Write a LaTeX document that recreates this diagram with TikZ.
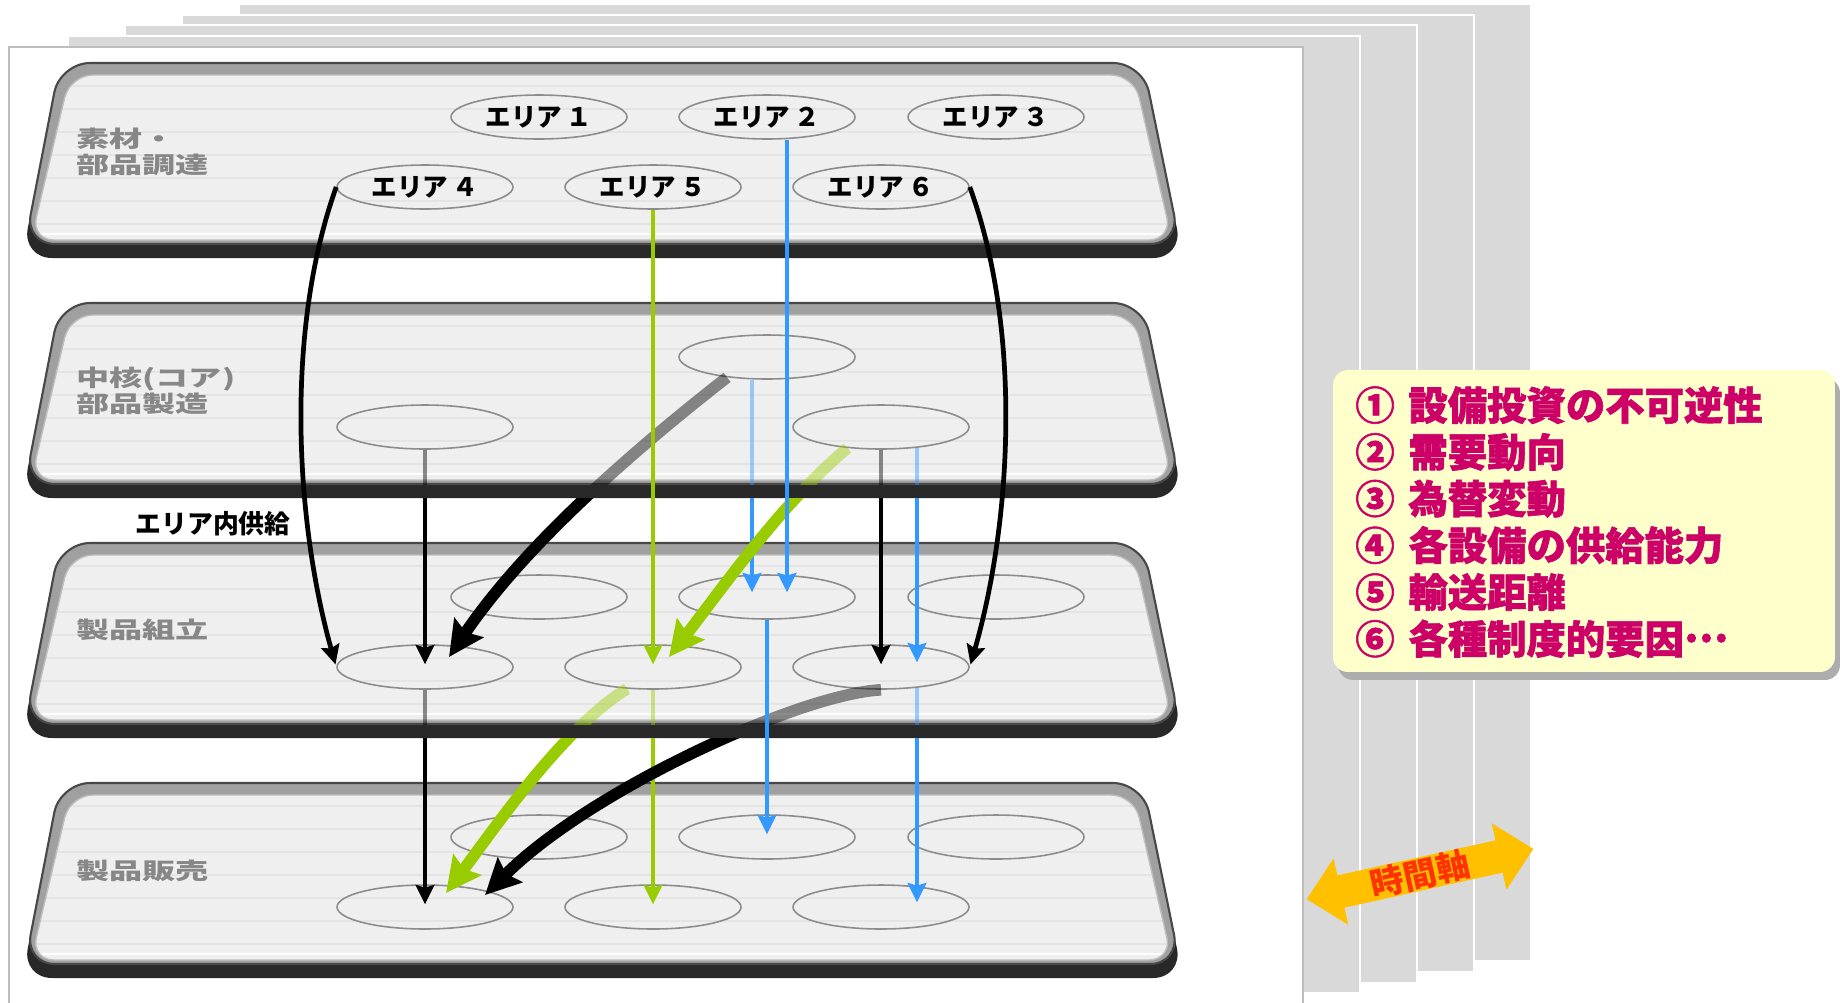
\documentclass[tikz,border=0pt]{standalone}
\usepackage{fontspec}
\usepackage{tikz}
\usetikzlibrary{shapes.geometric,arrows.meta,calc,shadows}
\newfontfamily\jp{Noto Sans CJK JP}
\newfontfamily\jpwide{Noto Sans CJK JP}[FakeStretch=1.45]
\newfontfamily\jpheavy{Noto Sans CJK JP}[BoldFeatures={FakeBold=1.5}]

\definecolor{pageGray}{RGB}{217,217,217}
\definecolor{frameGray}{RGB}{190,190,190}
\definecolor{trayDark}{RGB}{40,40,40}
\definecolor{rimGray}{RGB}{160,160,160}
\definecolor{surfGray}{RGB}{239,239,239}
\definecolor{stripeGray}{RGB}{228,228,228}
\definecolor{ellGray}{RGB}{140,140,140}
\definecolor{labelGray}{RGB}{135,135,135}
\definecolor{leafGreen}{RGB}{153,204,0}
\definecolor{skyBlue}{RGB}{51,153,255}
\definecolor{memoYellow}{RGB}{255,255,204}
\definecolor{memoPink}{RGB}{204,0,102}
\definecolor{axisGold}{RGB}{255,192,0}
\definecolor{axisRed}{RGB}{255,51,0}

% one tray (layer) with its top edge at y=#1
\newcommand{\tray}[1]{%
  \begin{scope}[shift={(0,#1)}]
    \fill[trayDark, rounded corners=0.6cm]
      (60,0) -- (1143,0) -- (1183,195) -- (22,195) -- cycle;
    \filldraw[fill=rimGray, draw=trayDark!85, line width=1.2pt, rounded corners=0.6cm]
      (60,0) -- (1143,0) -- (1180,181) -- (25,181) -- cycle;
    \begin{scope}
      \clip[rounded corners=0.46cm] (70,12) -- (1134,12) -- (1172,177) -- (31,177) -- cycle;
      \fill[surfGray] (0,0) rectangle (1200,200);
      \foreach \s in {1,...,7}
        \draw[stripeGray, line width=0.6pt] (0,23*\s) -- (1200,23*\s);
      \draw[white, line width=1.5pt] (0,171) -- (1200,171);
    \end{scope}
    \draw[frameGray, line width=0.8pt, rounded corners=0.46cm]
      (70,12) -- (1134,12) -- (1172,177) -- (31,177) -- cycle;
  \end{scope}}

% arrows leaving tray #1: faded on the tray, hidden by its edge, full below
\newcommand{\crosstray}[2]{%
  \begin{scope}[opacity=.45]
    \clip (0,#1) rectangle (1841,#1+181);
    #2
  \end{scope}
  \begin{scope}
    \clip (0,#1+195) rectangle (1841,1002);
    #2
  \end{scope}}

\begin{document}
\begin{tikzpicture}[x=0.02cm, y=-0.02cm,
  areaell/.style={ellipse, draw=ellGray, line width=0.9pt,
                  minimum width=3.52cm, minimum height=0.88cm, inner sep=0pt,
                  font=\jp\bfseries\fontsize{14.5pt}{16pt}\selectfont},
  traylabel/.style={anchor=west, align=left, inner sep=0pt, text=labelGray,
                    font=\jpwide\bfseries\fontsize{13pt}{14.8pt}\selectfont},
  thinflow/.style={line width=2.7pt, shorten >=1.5pt,
                   -{Stealth[length=11pt, width=10.5pt, inset=1.5pt]}},
  thickflow/.style={line width=6.6pt,
                    -{Stealth[length=20pt, width=19.5pt, inset=3pt]}},
  memobox/.style={rounded corners=0.3cm, fill=memoYellow,
                  minimum width=10.04cm, minimum height=6.04cm,
                  drop shadow={shadow xshift=0.1cm, shadow yshift=-0.16cm,
                               fill=black!32, opacity=1}},
  memotext/.style={anchor=west, align=left, inner sep=0pt, text=memoPink,
                   font=\jpheavy\bfseries\fontsize{22.4pt}{26.6pt}\selectfont}
]
  \useasboundingbox (0,0) rectangle (1841,1002);
  \fill[white] (0,0) rectangle (1841,1002);

  % stacked sheets
  \foreach \i in {4,3,2,1}
    \filldraw[fill=pageGray, draw=white, line width=1.2pt]
      (11+57*\i,47-10.8*\i) rectangle (1303+57*\i,1004-10.7*\i);
  \filldraw[fill=white, draw=frameGray, line width=1.2pt] (9,47) rectangle (1303,1012);

  % trays
  \foreach \t in {63,303,543,783} \tray{\t};

  \node[traylabel] (labA) at (76,152) {素材・\\部品調達};
  \node[traylabel] (labB) at (76,391) {中核(コア)\\部品製造};
  \node[traylabel] (labC) at (76,630) {製品組立};
  \node[traylabel] (labD) at (76,871) {製品販売};

  % areas
  \node[areaell] (A1) at (539,117) {エリア\,１};
  \node[areaell] (A2) at (767,117) {エリア\,２};
  \node[areaell] (A3) at (996,117) {エリア\,３};
  \node[areaell] (A4) at (425,187) {エリア\,４};
  \node[areaell] (A5) at (653,187) {エリア\,５};
  \node[areaell] (A6) at (881,187) {エリア\,６};
  \foreach \n/\x/\y in {2/767/357, 4/425/427, 6/881/427}
    \node[areaell] (B\n) at (\x,\y) {};
  \foreach \t/\y in {C/543, D/783}
    \foreach \n/\x/\dy in {1/539/54, 2/767/54, 3/996/54, 4/425/124, 5/653/124, 6/881/124}
      \node[areaell] (\t\n) at (\x,\y+\dy) {};

  \node[font=\jp\bfseries\fontsize{14.7pt}{16pt}\selectfont] (inner) at (213,524) {エリア内供給};

  % core parts -> assembly
  \crosstray{303}{%
    \draw[thinflow, skyBlue] ($(B2.south)+(-15,0)$) -- ($(C2.center)+(-15,-2)$);
    \draw[thinflow] (B4.south) -- (C4.center);
    \draw[thinflow] (B6.south) -- (C6.center);
    \draw[thinflow, skyBlue] ($(B6.south)+(36,-2)$) -- ($(C6.center)+(36,-2)$);
    \draw[thickflow] (B2.207) .. controls (625,457) and (522,549) .. ($(C4.center)+(24,-10)$);
    \draw[thickflow, leafGreen] (B6.212) .. controls (781,504) and (724,586) .. ($(C5.center)+(16,-10)$);
  }

  % assembly -> sales
  \crosstray{543}{%
    \draw[thinflow] (C4.south) -- (D4.center);
    \draw[thinflow, leafGreen] (C5.south) -- (D5.center);
    \draw[thinflow, skyBlue] ($(C6.south)+(36,-2)$) -- ($(D6.center)+(36,-2)$);
    \draw[thickflow, leafGreen] (C5.220) .. controls (563,728) and (494,829) .. ($(D4.center)+(21,-14)$);
    \draw[thickflow] (C6.south) .. controls (800,694) and (590,790) .. ($(D4.center)+(60,-12)$);
  }
  \draw[thinflow, skyBlue] (C2.south) -- (D2.center);

  % materials -> assembly
  \draw[thinflow] (A4.west) .. controls (285,330) and (295,520) .. (C4.west);
  \draw[thinflow] (A6.east) .. controls (1022,330) and (1012,520) .. (C6.east);
  \draw[thinflow, leafGreen] (A5.south) -- (C5.center);
  \draw[thinflow, skyBlue] ($(A2.south)+(20,0)$) -- ($(C2.center)+(20,-2)$);

  % factors
  \node[memobox] (memo) at (1584,521) {};
  \node[memotext] (factors) at (1355,522)
    {①\hspace{.35em}設備投資の不可逆性\\②\hspace{.35em}需要動向\\③\hspace{.35em}為替変動\\
     ④\hspace{.35em}各設備の供給能力\\⑤\hspace{.35em}輸送距離\\⑥\hspace{.35em}各種制度的要因\raisebox{.3em}{…}};

  % time axis
  \begin{scope}[shift={(1420,874)}, rotate=12.5]
    \fill[axisGold] (-116,0) -- (-81,-34) -- (-81,-16.5) -- (81,-16.5) -- (81,-34)
      -- (116,0) -- (81,34) -- (81,16.5) -- (-81,16.5) -- (-81,34) -- cycle;
    \node[rotate=12.5, text=axisRed, font=\jp\bfseries\fontsize{19pt}{20pt}\selectfont]
      (timeaxis) at (0,0) {時間軸};
  \end{scope}
\end{tikzpicture}
\end{document}
